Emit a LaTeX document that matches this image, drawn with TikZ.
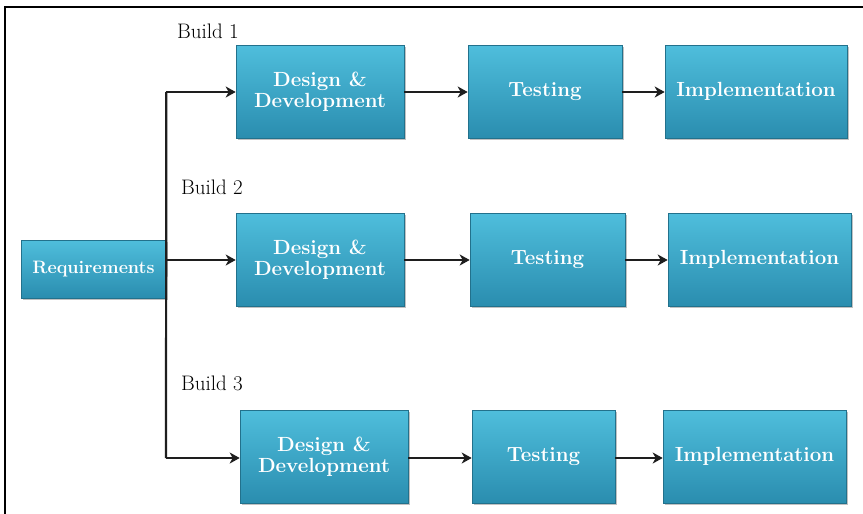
\documentclass[tikz,border=0pt]{standalone}
\usetikzlibrary{arrows.meta,shadows}
\definecolor{boxtop}{HTML}{4FBEDC}
\definecolor{boxbot}{HTML}{2A8DAF}
\definecolor{arr}{HTML}{1E1E1E}
\tikzset{
  x=1pt,y=-1pt,
  stepbox/.style={draw=boxbot!80!black, line width=0.6pt, top color=boxtop, bottom color=boxbot,
    drop shadow={shadow xshift=1.5pt, shadow yshift=-1.5pt, fill=black!40, opacity=0.6},
    text=white, font=\fontsize{20.5}{21}\selectfont\bfseries, align=center, inner sep=0pt},
  reqbox/.style={stepbox, font=\fontsize{18}{19}\selectfont\bfseries},
  buildlbl/.style={font=\fontsize{21}{22}\selectfont, anchor=west, inner sep=0pt},
  link/.style={draw=arr, line width=2.2pt, -{Stealth[length=10pt,width=11pt,inset=3pt]}},
  trunk/.style={draw=arr, line width=2.2pt},
}
\newcommand{\bx}[6]{% name, x1, y1, x2, y2, text
  \node[stepbox, minimum width={#4-#2}, minimum height={#5-#3}] (#1) at ({(#2+#4)/2},{(#3+#5)/2}) {#6};}
\begin{document}
\begin{tikzpicture}
\useasboundingbox (0,0) rectangle (863,514);
\fill[white] (0,0) rectangle (863,514);
\draw[line width=2.2pt] (5,514) -- (5,7) -- (863,7);

\node[reqbox, minimum width=145, minimum height=58] (req) at (93.5,269) {Requirements};

\bx{d1}{236}{45}{404}{138}{Design \&\\Development}
\bx{t1}{468}{45}{622}{138}{Testing}
\bx{i1}{665}{45}{847}{138}{Implementation}

\bx{d2}{236}{213}{404}{306}{Design \&\\Development}
\bx{t2}{470}{213}{625}{306}{Testing}
\bx{i2}{668}{213}{851}{306}{Implementation}

\bx{d3}{240}{410}{408}{503}{Design \&\\Development}
\bx{t3}{472}{410}{615}{503}{Testing}
\bx{i3}{663}{410}{846}{503}{Implementation}

\node[buildlbl] (b1) at (177,31) {Build 1};
\node[buildlbl] (b2) at (181,187) {Build 2};
\node[buildlbl] (b3) at (181,383) {Build 3};

\coordinate (top) at (166,92);
\coordinate (mid) at (166,260);
\coordinate (bot) at (166,458);
\draw[trunk, line join=round] (req.north east |- top) -- (bot);
\draw[link] (req.east |- top) -- (d1.west |- top);
\draw[link] (mid) -- (d2.west |- mid);
\draw[link] (bot) -- (d3.west |- bot);

\draw[link] (d1.east |- top) -- (t1.west |- top);
\draw[link] (t1.east |- top) -- (i1.west |- top);
\draw[link] (d2.east |- mid) -- (t2.west |- mid);
\draw[link] (t2.east |- mid) -- (i2.west |- mid);
\draw[link] (d3.east |- bot) -- (t3.west |- bot);
\draw[link] (t3.east |- bot) -- (i3.west |- bot);
\end{tikzpicture}
\end{document}
